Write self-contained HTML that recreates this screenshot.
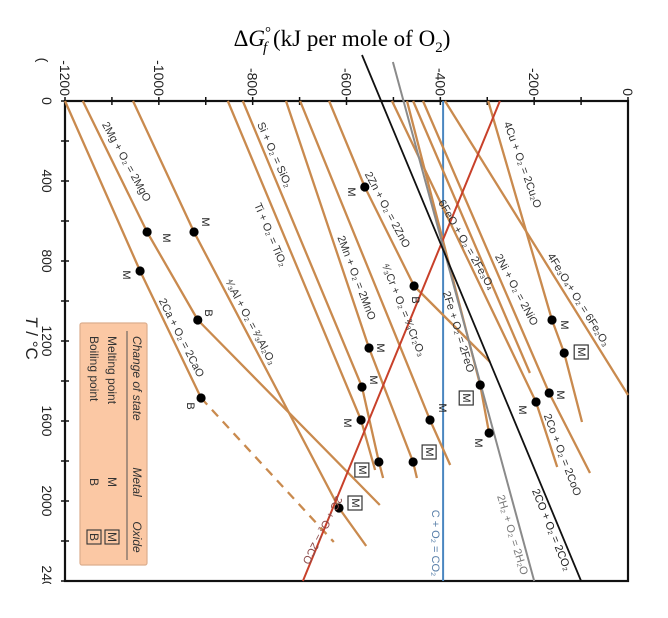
<!DOCTYPE html>
<html><head><meta charset="utf-8"><style>
html,body{margin:0;padding:0;background:#fff;width:668px;height:618px;overflow:hidden}
svg{display:block}
text{font-family:"Liberation Sans",sans-serif}
</style></head><body>
<svg id="chart" width="668" height="618" viewBox="0 0 668 618" xmlns="http://www.w3.org/2000/svg">
<defs><clipPath id="clipPlot"><rect x="0" y="0" width="668" height="584"/></clipPath></defs>
<text x="342" y="46" text-anchor="middle" font-family="Liberation Serif, serif" font-size="23" style="font-family:'Liberation Serif',serif">Δ<tspan font-style="italic">G</tspan><tspan font-size="15" dy="-9">°</tspan><tspan font-size="15" font-style="italic" dx="-8" dy="15">f</tspan><tspan dy="-6">  (kJ per mole of O</tspan><tspan font-size="15" dy="6">2</tspan><tspan dy="-6">)</tspan></text>
<g id="layer" clip-path="url(#clipPlot)"></g>
</svg>
<script>
// axis ranges
const gMin = -1200, gMax = 0, tMin = 0, tMax = 2400;
const xTicksLabels = ["-1200","-1000","-800","-600","-400","-200","0"];
const xTickValues = [-1200,-1000,-800,-600,-400,-200,0];
const yTickValues = [0,400,800,1200,1600,2000,2400];
const yTickLabels = ["0","400","800","1200","1600","2000","2400"];

// series (ΔG kJ/mol O2, T °C)
const gCa = [-1200,-1040,-910]; const tCa = [0,850,1485];
const gCaDash = [-910,-627]; const tCaDash = [1485,2205];
const gMg = [-1162,-1025,-917,-529]; const tMg = [0,655,1095,2020];
const gAl = [-1055,-925,-616,-558]; const tAl = [0,655,2035,2225];
const gTi = [-853,-569,-539]; const tTi = [0,1595,1845];
const gSi = [-821,-567,-531,-522]; const tSi = [0,1430,1805,1885];
const gMn = [-729,-552,-458,-450]; const tMn = [0,1235,1805,1885];
const gCr = [-699,-422,-379]; const tCr = [0,1595,1820];
const gZn = [-637,-561,-456,-294]; const tZn = [0,430,925,1305];
const gCo = [-503,-196,-151]; const tCo = [0,1505,1830];
const gFe = [-471,-315,-296]; const tFe = [0,1420,1660];
const gFeO = [-458,-209]; const tFeO = [0,1360];
const gNi = [-437,-168,-81]; const tNi = [0,1460,1860];
const gFe3O4 = [-390,0]; const tFe3O4 = [0,1470];
const gCu = [-298,-162,-136,-98]; const tCu = [0,1095,1260,1605];
const gC2CO = [-273,-693]; const tC2CO = [0,2400];
const gCO2CO2 = [-567,-100]; const tCO2CO2 = [-230,2400];
const gH2 = [-501,-200]; const tH2 = [-195,2400];
const gCCO2 = [-394,-394]; const tCCO2 = [0,2400];

// markers
const markerG = [-1040,-910,-1025,-917,-925,-616,-561,-456,-552,-458,-567,-531,-569,-422,-315,-296,-162,-136,-168,-196];
const markerT = [850,1485,655,1095,655,2035,430,925,1235,1805,1430,1805,1595,1595,1420,1660,1095,1260,1460,1505];
const markerKind = ["M","B","M","B","M","OM","M","B","M","OM","M","OM","M","M","OM","M","M","OM","M","M"];
const markerNames = ["ca-melting","ca-boiling","mg-melting","mg-boiling","al-melting","al2o3-melting","zn-melting","zn-boiling","mn-melting","mno-melting","si-melting","sio2-melting","ti-melting","cr-melting","feo-melting","fe-melting","cu-melting","cu2o-melting","ni-melting","co-melting"];
</script>
<script>
const NS = "http://www.w3.org/2000/svg";
const svg = document.getElementById("chart");
const layer = document.getElementById("layer");
const X0 = 65, X1 = 628, Y0 = 101, Y1 = 581;
function xs(g){ return X0 + (g - gMin) / (gMax - gMin) * (X1 - X0); }
function ys(t){ return Y0 + (t - tMin) / (tMax - tMin) * (Y1 - Y0); }
function mk(tag, attrs, parent){
  const e = document.createElementNS(NS, tag);
  for (const k in attrs) e.setAttribute(k, attrs[k]);
  (parent || layer).appendChild(e);
  return e;
}
function txt(x, y, s, rot, size, color, name, extra){
  const t = mk("text", Object.assign({x:x, y:y, "font-size":size, fill:color, "text-anchor":"middle", "dominant-baseline":"central", transform:"rotate(" + rot + " " + x + " " + y + ")"}, extra || {}));
  t.textContent = s;
  
  
  return t;
}

// plot frame
const frame = mk("rect", {x:X0, y:Y0, width:X1-X0, height:Y1-Y0, fill:"none", stroke:"#111", "stroke-width":2.2});



// top ticks every 100
for (let g = -1200; g <= 0; g += 100){
  const tk = mk("line", {x1:xs(g), x2:xs(g), y1:Y0-4, y2:Y0+4, stroke:"#111", "stroke-width":1.5});
  
  
}
xTickValues.forEach((g, i) => {
  const t = mk("text", {x:xs(g), y:96, "font-size":14, fill:"#222", "text-anchor":"end", "dominant-baseline":"central", transform:"rotate(90 " + xs(g) + " 96)"});
  t.textContent = xTicksLabels[i];
  
  
});
const paren = txt(43, 60, "(", 90, 14, "#222", "x-tick-label-clipped");

// left ticks every 200
for (let t = 0; t <= 2400; t += 200){
  const tk = mk("line", {x1:X0-4, x2:X0+4, y1:ys(t), y2:ys(t), stroke:"#111", "stroke-width":1.5});
  
  
}
yTickValues.forEach((t, i) => {
  const lab = txt(47, ys(t), yTickLabels[i], 90, 14, "#222", "y-tick-label");
});
const ytitle = txt(32, 338, "T / °C", 90, 17, "#222", "y-axis-title");
ytitle.textContent = "";
const tsT = mk("tspan", {"font-style":"italic"}, ytitle); tsT.textContent = "T";
const tsR = mk("tspan", {}, ytitle); tsR.textContent = " / °C";

// series lines
function series(gs, ts, color, w, name, dash){
  const pts = gs.map((g, i) => xs(g).toFixed(1) + "," + ys(ts[i]).toFixed(1)).join(" ");
  const a = {points:pts, fill:"none", stroke:color, "stroke-width":w, "stroke-linejoin":"round"};
  if (dash) a["stroke-dasharray"] = dash;
  const p = mk("polyline", a);
  
  
}
const OR = "#c98a4e";
series(gCCO2, tCCO2, "#4a86c0", 2, "line-c-co2");
series(gCa, tCa, OR, 2.3, "line-ca-cao");
series(gCaDash, tCaDash, OR, 2.3, "line-ca-cao-dashed", "9,7");
series(gMg, tMg, OR, 2.3, "line-mg-mgo");
series(gAl, tAl, OR, 2.3, "line-al-al2o3");
series(gTi, tTi, OR, 2.3, "line-ti-tio2");
series(gSi, tSi, OR, 2.3, "line-si-sio2");
series(gMn, tMn, OR, 2.3, "line-mn-mno");
series(gCr, tCr, OR, 2.3, "line-cr-cr2o3");
series(gZn, tZn, OR, 2.3, "line-zn-zno");
series(gCo, tCo, OR, 2.3, "line-co-coo");
series(gFe, tFe, OR, 2.3, "line-fe-feo");
series(gFeO, tFeO, OR, 2.3, "line-feo-fe3o4");
series(gNi, tNi, OR, 2.3, "line-ni-nio");
series(gFe3O4, tFe3O4, OR, 2.3, "line-fe3o4-fe2o3");
series(gCu, tCu, OR, 2.3, "line-cu-cu2o");
series(gC2CO, tC2CO, "#c8402a", 2, "line-c-co");
series(gH2, tH2, "#8a8a8a", 2, "line-h2-h2o");
series(gCO2CO2, tCO2CO2, "#111", 1.8, "line-co-co2");

// markers
const markerOffsets = [[-14,4],[-11,8],[19,6],[10,-7],[11,-10],[16,-5],[-14,5],[1,14],[11,0],[16,-10],[11,-7],[-17,8],[-14,3],[12,-12],[-14,13],[-11,10],[12,5],[17,-1],[11,2],[-14,8]];
markerG.forEach((g, i) => {
  const cx = xs(g), cy = ys(markerT[i]);
  const d = mk("circle", {cx:cx, cy:cy, r:4.6, fill:"#000"});
  
  
  const o = markerOffsets[i];
  const lx = cx + o[0], ly = cy + o[1];
  if (markerKind[i] === "OM"){
    const b = mk("rect", {x:lx-7, y:ly-7, width:14, height:14, fill:"#fff", stroke:"#333", "stroke-width":1.2});
    
    
    txt(lx, ly, "M", 90, 11, "#222", markerNames[i] + '-label');
  } else {
    txt(lx, ly, markerKind[i], 90, 11, "#222", markerNames[i] + '-label');
  }
});

// line labels
const lab = (x,y,s,a,n,c) => txt(x,y,s,a,11,c||"#333",n);
lab(126,162,"2Mg + O₂ = 2MgO",61,"label-mg");
lab(181,338,"2Ca + O₂ = 2CaO",63,"label-ca");
lab(274,155,"Si + O₂ = SiO₂",66,"label-si");
lab(270,235,"Ti + O₂ = TiO₂",67,"label-ti");
lab(250,322,"⁴⁄₃Al + O₂ = ²⁄₃Al₂O₃",62,"label-al");
lab(387,210,"2Zn + O₂ = 2ZnO",62,"label-zn");
lab(356,278,"2Mn + O₂ = 2MnO",69,"label-mn");
lab(403,310,"⁴⁄₃Cr + O₂ = ²⁄₃Cr₂O₃",68,"label-cr");
lab(522,165,"4Cu + O₂ = 2Cu₂O",70,"label-cu");
lab(466,245,"6FeO + O₂ = 2Fe₃O₄",60,"label-feo");
lab(516,290,"2Ni + O₂ = 2NiO",62,"label-ni");
lab(578,300,"4Fe₃O₄+ O₂ = 6Fe₂O₃",58,"label-fe3o4");
lab(458,332,"2Fe + O₂ = 2FeO",73,"label-fe");
lab(562,455,"2Co + O₂ = 2CoO",69,"label-co");
lab(322,530,"2C + O₂ = 2CO",117,"label-c-co","#8b4a4a");
lab(435,543,"C + O₂ = CO₂",90,"label-c-co2","#5a80aa");
lab(512,535,"2H₂ + O₂ = 2H₂O",73,"label-h2","#777");
lab(551,530,"2CO + O₂ = 2CO₂",68,"label-co-co2","#222");

// legend
const lg = mk("g", {});


const lr = mk("rect", {x:80, y:323, width:67, height:242, rx:2, fill:"#fbc8a4", stroke:"#dcae8e", "stroke-width":1.2}, lg);


const rule = mk("line", {x1:127, x2:127, y1:331, y2:560, stroke:"#555", "stroke-width":1}, lg);


function ltxt(x,y,s,n,italic,anchor){
  const t = mk("text", {x:x, y:y, "font-size":12, fill:"#333", "text-anchor":anchor||"start", "dominant-baseline":"central", transform:"rotate(90 " + x + " " + y + ")", "font-style":italic?"italic":"normal"}, lg);
  t.textContent = s;
  
  
}
ltxt(137,336,"Change of state","legend-header-change",true);
ltxt(137,482,"Metal","legend-header-metal",true,"middle");
ltxt(137,537,"Oxide","legend-header-oxide",true,"middle");
ltxt(112,336,"Melting point","legend-melting");
ltxt(112,482,"M","legend-melting-metal",false,"middle");
ltxt(94,336,"Boiling point","legend-boiling");
ltxt(94,482,"B","legend-boiling-metal",false,"middle");
[[112,"M","legend-melting-oxide"],[94,"B","legend-boiling-oxide"]].forEach(r => {
  const b = mk("rect", {x:r[0]-7, y:530, width:14, height:14, fill:"none", stroke:"#333", "stroke-width":1.1}, lg);
  
  
  ltxt(r[0],537,r[1],r[2],false,"middle");
});
</script>
</body></html>
